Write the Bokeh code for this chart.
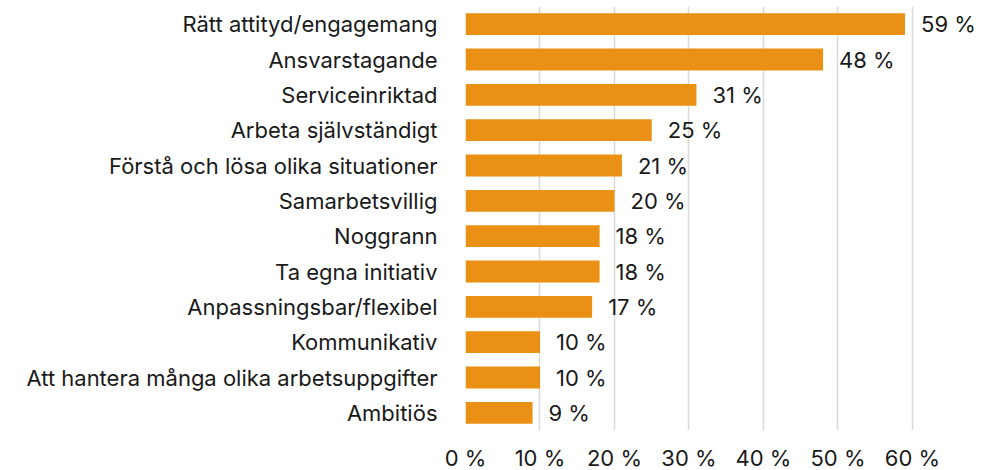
from bokeh.plotting import figure
from bokeh.models import ColumnDataSource, FactorRange, Range1d, FixedTicker, CustomJSTickFormatter
from bokeh.core.properties import value
from bokeh.embed import file_html
from bokeh.resources import INLINE

categories = ["Rätt attityd/engagemang", "Ansvarstagande", "Serviceinriktad",
              "Arbeta självständigt", "Förstå och lösa olika situationer",
              "Samarbetsvillig", "Noggrann", "Ta egna initiativ",
              "Anpassningsbar/flexibel", "Kommunikativ",
              "Att hantera många olika arbetsuppgifter", "Ambitiös"]
values = [59, 48, 31, 25, 21, 20, 18, 18, 17, 10, 10, 9]
tick_values = [0, 10, 20, 30, 40, 50, 60]

FONT = "Inter"
FS = "22px"
BAR = "#EA9014"
TXT = "#1a1a1a"

src = ColumnDataSource(dict(cat=categories, val=values,
                            lab=[f"{v} %" for v in values]))

p = figure(frame_width=514, frame_height=424, output_backend="svg",
           toolbar_location=None,
           y_range=FactorRange(factors=list(reversed(categories))),
           x_range=Range1d(0, 69.0),
           min_border_left=465, min_border_right=0, min_border_top=6,
           min_border_bottom=0)
p.outline_line_color = None
p.background_fill_color = "white"

p.hbar(y="cat", right="val", left=0, height=0.62, source=src,
       fill_color=BAR, line_color=None)
p.text(x="val", y="cat", text="lab", source=src, x_offset=16,
       text_font=value(FONT), text_font_size=FS, text_color=TXT,
       text_baseline="middle", text_align="left")

p.xaxis.ticker = FixedTicker(ticks=tick_values)
p.xaxis.formatter = CustomJSTickFormatter(code="return tick + ' %';")
p.xaxis.axis_line_color = None
p.xaxis.major_tick_line_color = None
p.xaxis.minor_tick_line_color = None
p.xaxis.major_tick_out = 0
p.xaxis.major_label_standoff = 14
p.xaxis.major_label_text_font = FONT
p.xaxis.major_label_text_font_size = FS
p.xaxis.major_label_text_color = TXT

p.yaxis.axis_line_color = None
p.yaxis.major_tick_line_color = None
p.yaxis.major_tick_out = 0
p.yaxis.major_label_standoff = 28
p.yaxis.major_label_text_font = FONT
p.yaxis.major_label_text_font_size = FS
p.yaxis.major_label_text_color = TXT

p.xgrid.grid_line_color = "#d9d9d9"
p.xgrid.grid_line_width = 1.5
p.ygrid.grid_line_color = None

open("out.html", "w").write(file_html(p, INLINE))
